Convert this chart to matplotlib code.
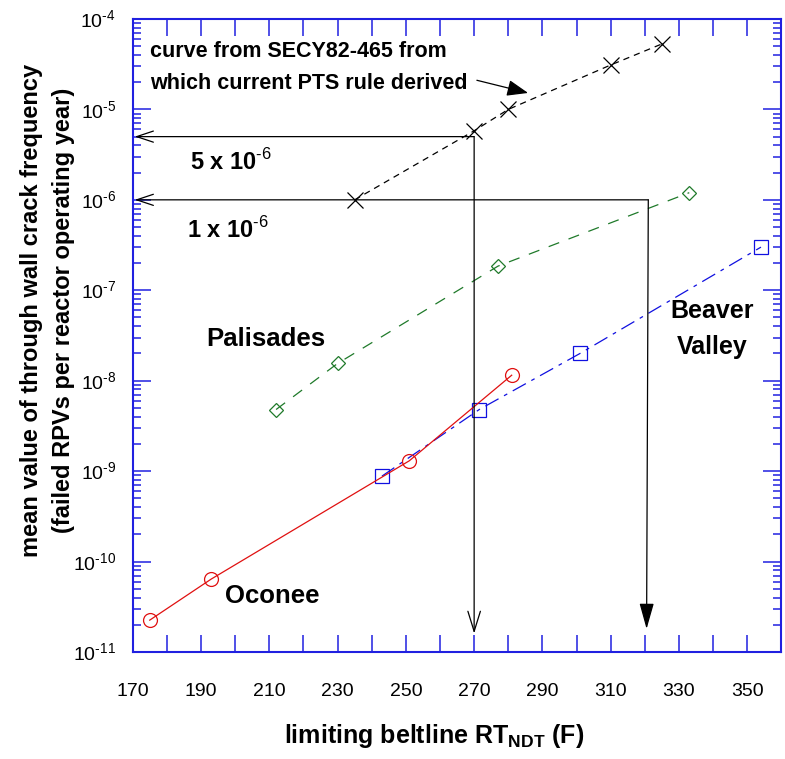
import matplotlib
matplotlib.use("Agg")
import matplotlib.pyplot as plt
from matplotlib.ticker import FixedLocator, LogLocator, NullFormatter

plt.rcParams['font.family'] = ['Liberation Sans', 'DejaVu Sans']
plt.rcParams['mathtext.fontset'] = 'custom'
plt.rcParams['mathtext.rm'] = 'Liberation Sans'
plt.rcParams['mathtext.bf'] = 'Liberation Sans:bold'

# SECY82-465 curve
secy_rt = [235, 270, 280, 310, 325]
secy_f = [1.0e-6, 5.8e-6, 1.0e-5, 3.1e-5, 5.3e-5]
# Palisades
pal_rt = [212, 230, 277, 333]
pal_f = [4.8e-9, 1.55e-8, 1.85e-7, 1.2e-6]
# Beaver Valley
bv_rt = [243, 271.5, 301, 354]
bv_f = [8.8e-10, 4.8e-9, 2.0e-8, 3.0e-7]
# Oconee
oc_rt = [175, 193, 251, 281]
oc_f = [2.25e-11, 6.4e-11, 1.3e-9, 1.15e-8]

xticks = [170, 190, 210, 230, 250, 270, 290, 310, 330, 350]
ytick_exp = [-11, -10, -9, -8, -7, -6, -5, -4]

fig = plt.figure(figsize=(7.85, 7.59), dpi=100)
ax = fig.add_axes([0.169, 0.141, 0.8265, 0.834])

ax.plot(secy_rt, secy_f, color='black', lw=0.9, dashes=(5, 4),
        marker='x', ms=11, mew=0.9)
ax.plot(pal_rt, pal_f, color='#1f7a2a', lw=0.9, dashes=(9, 8),
        marker='D', ms=7, mfc='none', mew=0.9)
ax.plot(bv_rt, bv_f, color='#1010e0', lw=0.9, dashes=(12, 5, 3, 5),
        marker='s', ms=9.5, mfc='none', mew=0.9)
ax.plot(oc_rt, oc_f, color='#e01010', lw=0.9,
        marker='o', ms=10, mfc='none', mew=0.9)

ax.set_yscale('log')
ax.set_xlim(170, 360)
ax.set_ylim(1e-11, 1e-4)

ax.xaxis.set_major_locator(FixedLocator(xticks))
ax.xaxis.set_minor_locator(FixedLocator(range(170, 361, 10)))
ax.set_xticklabels([str(v) for v in xticks])
ax.yaxis.set_major_locator(FixedLocator([10.0 ** e for e in ytick_exp]))
ax.yaxis.set_minor_locator(LogLocator(base=10, subs=range(2, 10), numticks=20))
ax.yaxis.set_minor_formatter(NullFormatter())
ax.set_yticklabels(['$10^{\\text{%d}}$' % e for e in ytick_exp])

blue = '#2020e0'
for s in ax.spines.values():
    s.set_color(blue)
    s.set_linewidth(1.5)
ax.tick_params(which='both', direction='in', top=True, right=True,
               color=blue, labelsize=14, labelcolor='black')
ax.tick_params(axis='x', which='minor', length=12, width=1.1)
ax.tick_params(axis='x', which='major', length=12, width=1.1, pad=22)
ax.tick_params(axis='y', which='major', length=13, width=1.1, pad=12)
ax.tick_params(axis='y', which='minor', length=6, width=1.1)

fig.text(434 / 785, 1 - 743 / 759, 'limiting beltline RT$_{\\mathbf{NDT}}$ (F)',
         fontsize=18, fontweight='bold', ha='center', va='baseline')
fig.text(48 / 785, 1 - 310 / 759,
         'mean value of through wall crack frequency\n'
         '(failed RPVs per reactor operating year)', fontsize=17,
         fontweight='bold', rotation=90, ha='center', va='center',
         multialignment='center', linespacing=1.5)

# reading arrows
open_head = '->,head_length=1.2,head_width=0.4'
ax.annotate('', xy=(170.6, 5e-6), xytext=(270, 5e-6),
            arrowprops=dict(arrowstyle=open_head, color='black', lw=0.9,
                            shrinkA=0, shrinkB=0))
ax.annotate('', xy=(270, 1.6e-11), xytext=(270, 5e-6),
            arrowprops=dict(arrowstyle='->,head_length=1.45,head_width=0.45',
                            color='black', lw=0.9, shrinkA=0, shrinkB=0))
ax.annotate('', xy=(170.6, 1e-6), xytext=(321, 1e-6),
            arrowprops=dict(arrowstyle=open_head, color='black', lw=0.9,
                            shrinkA=0, shrinkB=0))
ax.annotate('', xy=(320.5, 1.8e-11), xytext=(321, 1e-6),
            arrowprops=dict(arrowstyle='-|>,head_length=1.6,head_width=0.45',
                            color='black', lw=0.9, shrinkA=0, shrinkB=0))
ax.annotate('', xy=(285.8, 1.52e-5), xytext=(270.8, 2.1e-5),
            arrowprops=dict(arrowstyle='-|>,head_length=1.3,head_width=0.5',
                            color='black', lw=0.9, shrinkA=0, shrinkB=0))

ax.text(175.1, 2.9e-5, 'curve from SECY82-465 from\nwhich current PTS rule derived',
        fontsize=15.5, fontweight='bold', va='center', ha='left', linespacing=1.65)
ax.text(186.8, 2.6e-6, '5 x 10$^{\\mathbf{\\text{-6}}}$', fontsize=17,
        fontweight='bold', va='center', ha='left')
ax.text(185.9, 4.6e-7, '1 x 10$^{\\mathbf{\\text{-6}}}$', fontsize=17,
        fontweight='bold', va='center', ha='left')
ax.text(191.5, 2.86e-8, 'Palisades', fontsize=18.5, fontweight='bold',
        va='center', ha='left')
ax.text(339.7, 3.7e-8, 'Beaver\nValley', fontsize=18, fontweight='bold',
        va='center', ha='center', linespacing=1.65)
ax.text(197, 4.2e-11, 'Oconee', fontsize=18.5, fontweight='bold',
        va='center', ha='left')

fig.savefig('out.png', dpi=100)
